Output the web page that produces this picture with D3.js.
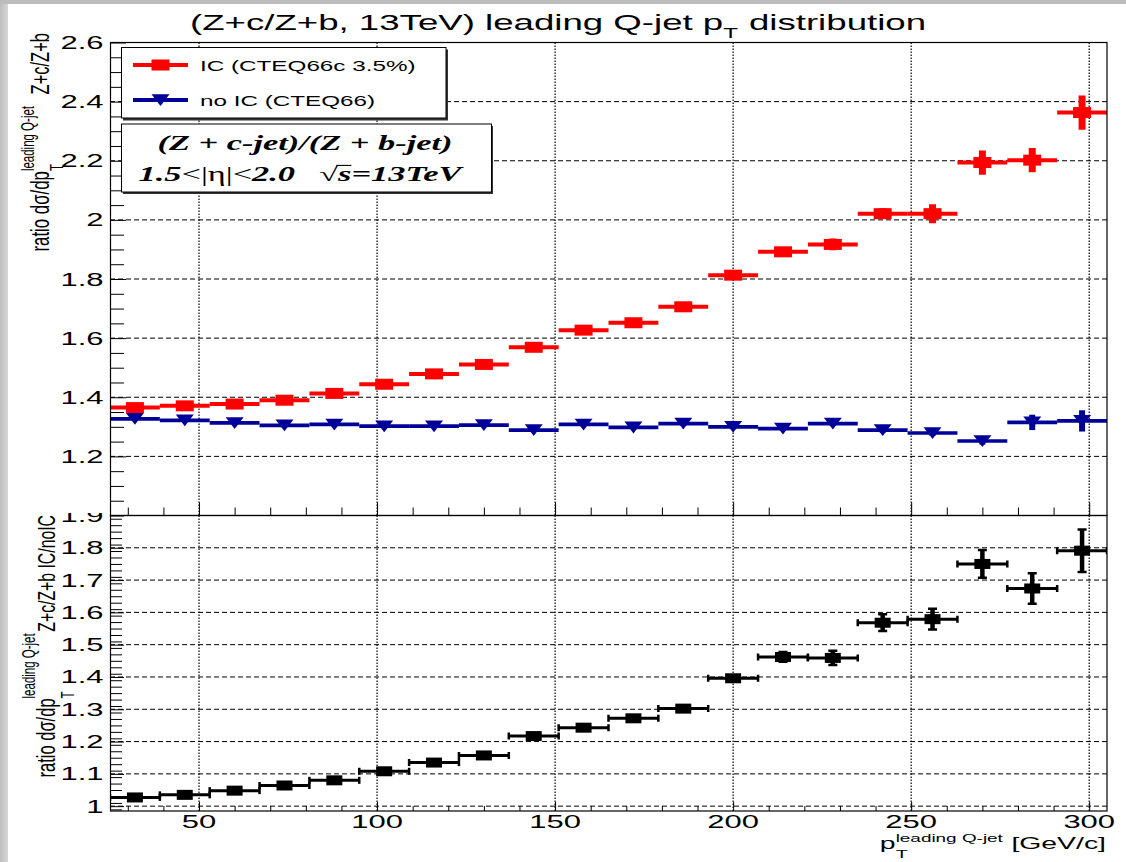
<!DOCTYPE html>
<html>
<head>
<meta charset="utf-8">
<script src="https://cdn.jsdelivr.net/npm/d3@7/dist/d3.min.js"></script>
<style>
  html, body { margin: 0; padding: 0; background: #ffffff; }
  svg { display: block; }
</style>
</head>
<body>
<svg id="chart" width="1126" height="862"></svg>
<script>
// ---- Z+c / Z+b cross-section ratio vs leading Q-jet pT (13 TeV) ----
// 20 bins of 14 GeV/c from 25 to 305 GeV/c
const ptCenters = [32, 46, 60, 74, 88, 102, 116, 130, 144, 158, 172, 186, 200, 214, 228, 242, 256, 270, 284, 298];
const binWidth = 14;

// intrinsic charm (CTEQ66c 3.5%)
const icRatio = [1.365, 1.371, 1.377, 1.390, 1.413, 1.444, 1.479, 1.511, 1.569, 1.627, 1.652, 1.706, 1.813, 1.892, 1.917, 2.021, 2.021, 2.194, 2.202, 2.363];
const icErr   = [0.004, 0.004, 0.004, 0.004, 0.005, 0.005, 0.005, 0.006, 0.006, 0.007, 0.007, 0.008, 0.009, 0.010, 0.020, 0.018, 0.032, 0.041, 0.041, 0.058];

// no intrinsic charm (CTEQ66)
const noIcRatio = [1.327, 1.322, 1.313, 1.305, 1.308, 1.302, 1.302, 1.306, 1.289, 1.308, 1.298, 1.311, 1.300, 1.294, 1.311, 1.289, 1.279, 1.252, 1.315, 1.320];
const noIcErr   = [0.003, 0.003, 0.003, 0.003, 0.003, 0.004, 0.004, 0.004, 0.004, 0.005, 0.005, 0.005, 0.006, 0.007, 0.008, 0.009, 0.010, 0.012, 0.026, 0.036];

// double ratio IC / noIC
const icOverNoIc    = [1.027, 1.035, 1.048, 1.064, 1.080, 1.108, 1.135, 1.157, 1.217, 1.243, 1.272, 1.302, 1.396, 1.462, 1.459, 1.568, 1.579, 1.750, 1.674, 1.791];
const icOverNoIcErr = [0.003, 0.003, 0.004, 0.004, 0.005, 0.005, 0.005, 0.006, 0.006, 0.007, 0.007, 0.008, 0.010, 0.015, 0.022, 0.026, 0.032, 0.043, 0.047, 0.066];

// axis ticks and labels
const xTickValues  = [50, 100, 150, 200, 250, 300];
const xTickLabels  = ["50", "100", "150", "200", "250", "300"];
const upperYTicks  = [1.2, 1.4, 1.6, 1.8, 2.0, 2.2, 2.4, 2.6];
const upperYLabels = ["1.2", "1.4", "1.6", "1.8", "2", "2.2", "2.4", "2.6"];
const lowerYTicks  = [1.0, 1.1, 1.2, 1.3, 1.4, 1.5, 1.6, 1.7, 1.8, 1.9];
const lowerYLabels = ["1", "1.1", "1.2", "1.3", "1.4", "1.5", "1.6", "1.7", "1.8", "1.9"];
const legendLabels = ["IC (CTEQ66c 3.5%)", "no IC (CTEQ66)"];

// ---- layout ----
const W = 1126, H = 862;
const X0 = 110, X1 = 1107;
const YT0 = 42.5, YT1 = 515.5;   // upper frame
const YB0 = 515.5, YB1 = 811;    // lower frame
const SANS = "'Liberation Sans', Arial, Helvetica, sans-serif";
const SERIF = "'Liberation Serif', 'Times New Roman', Times, serif";
const SX = 1.72;    // wide glyph aspect of canvas text
const SXV = 1.55;   // glyph aspect for rotated axis titles
const RED = "#ff0000", BLUE = "#000099", BLACK = "#000000";

const x = d3.scaleLinear().domain([25, 305]).range([X0, X1]);
const yTop = d3.scaleLinear().domain([1.0, 2.6]).range([YT1, YT0]);
const yBot = d3.scaleLinear().domain([0.985, 1.9]).range([YB1, YB0]);

const svg = d3.select("#chart");
const defs = svg.append("defs");

// background and window edge
svg.append("rect").attr("width", W).attr("height", H).attr("fill", "#ffffff");
const edge = defs.append("linearGradient").attr("id", "edge").attr("x1", 0).attr("x2", 1).attr("y1", 0).attr("y2", 0);
edge.append("stop").attr("offset", 0).attr("stop-color", "#bdbdbd");
edge.append("stop").attr("offset", 1).attr("stop-color", "#d6d6d6");
svg.append("rect").attr("x", 0).attr("y", 0).attr("width", 8).attr("height", H).attr("fill", "url(#edge)");
svg.append("rect").attr("x", 0).attr("y", 0).attr("width", W).attr("height", 4).attr("fill", "#bcbcbc");

defs.append("clipPath").attr("id", "clipTop").append("rect")
  .attr("x", X0).attr("y", YT0).attr("width", X1 - X0).attr("height", YT1 - YT0);
defs.append("clipPath").attr("id", "clipBot").append("rect")
  .attr("x", X0).attr("y", YB0).attr("width", X1 - X0).attr("height", YB1 - YB0);
defs.append("clipPath").attr("id", "lowerPad").append("rect")
  .attr("x", 0).attr("y", 513).attr("width", W).attr("height", H - 513);

// text helper: sequence of pieces (sub/superscripts), drawn with wide glyph aspect
function rich(parent, px, py, pieces, o = {}) {
  const sx = o.sx ?? SX, rot = o.rotate ?? 0;
  const g = parent.append("g")
    .attr("transform", `translate(${px},${py}) scale(${sx},1)` + (rot ? ` rotate(${rot})` : ""));
  const inner = g.append("g");
  let cur = 0, held = 0;
  const placed = [];
  pieces.forEach(p => {
    const gap = (p.gap || 0) * p.size;
    const t = inner.append("text")
      .attr("x", cur + gap)
      .attr("y", p.dy || 0)
      .attr("font-family", p.family || o.family || SANS)
      .attr("font-size", p.size)
      .attr("font-weight", p.weight || o.weight || "normal")
      .attr("font-style", p.style || o.style || "normal")
      .attr("fill", o.fill || BLACK)
      .text(p.t);
    const w = t.node().getComputedTextLength();
    placed.push({ x0: cur + gap, w, p });
    if (p.hold) held = Math.max(held, w + gap);
    else { cur += Math.max(w + gap, held); held = 0; }
  });
  const shift = o.anchor === "end" ? -cur : o.anchor === "middle" ? -cur / 2 : 0;
  inner.attr("transform", `translate(${shift},0)`);
  placed.forEach(d => {
    if (d.p.overline) {
      const yy = (d.p.dy || 0) - d.p.size * 0.78;
      inner.append("line").attr("x1", d.x0 - 1).attr("x2", d.x0 + d.w)
        .attr("y1", yy).attr("y2", yy).attr("stroke", BLACK).attr("stroke-width", 1.1);
    }
  });
  return g;
}

// ---- title ----
rich(svg, 558, 30, [
  { t: "(Z+c/Z+b, 13TeV) leading Q-jet p", size: 21.3 },
  { t: "T", size: 14, dy: 8 },
  { t: "distribution", size: 21.3, gap: 0.3 }
], { anchor: "middle" });

// ---- grids ----
function grid(g, yScale, yTicks, ya, yb) {
  g.append("g").selectAll("line").data(yTicks.filter(v => yScale(v) > ya + 1 && yScale(v) < yb - 1)).join("line")
    .attr("x1", X0).attr("x2", X1)
    .attr("y1", d => yScale(d)).attr("y2", d => yScale(d))
    .attr("stroke", BLACK).attr("stroke-width", 1).attr("stroke-dasharray", "5,3");
  g.append("g").selectAll("line").data(xTickValues).join("line")
    .attr("x1", d => x(d)).attr("x2", d => x(d))
    .attr("y1", ya).attr("y2", yb)
    .attr("stroke", BLACK).attr("stroke-width", 1.2).attr("stroke-dasharray", "1.5,1.5");
}

// ---- lower pad (drawn first, partly covered by the upper pad) ----
const lower = svg.append("g").attr("clip-path", "url(#lowerPad)");
grid(lower, yBot, lowerYTicks, YB0, YB1);

function ticks(g, axis, tx, ty) {
  const a = g.append("g").attr("transform", `translate(${tx},${ty})`).call(axis);
  a.select(".domain").remove();
  a.selectAll("text").remove();
  a.selectAll("line").attr("stroke", BLACK).attr("stroke-width", 1);
}
const xMinor = d3.range(30, 305, 10).filter(v => v % 50 !== 0);
ticks(lower, d3.axisRight(yBot).tickValues(d3.range(0.99, 1.9, 0.02).filter(v => Math.abs(v * 10 - Math.round(v * 10)) > 0.01)).tickSize(12), X0, 0);
ticks(lower, d3.axisRight(yBot).tickValues(lowerYTicks).tickSize(14), X0, 0);
ticks(lower, d3.axisTop(x).tickValues(xMinor).tickSize(5), 0, YB1);
ticks(lower, d3.axisTop(x).tickValues(xTickValues).tickSize(9), 0, YB1);

// lower data: IC/noIC with capped error bars
const lowerData = ptCenters.map((c, i) => ({ c, v: icOverNoIc[i], e: icOverNoIcErr[i] }));
const ld = lower.append("g").attr("clip-path", "url(#clipBot)");
ld.selectAll(".hbar").data(lowerData).join("line")
  .attr("x1", d => x(d.c - binWidth / 2)).attr("x2", d => x(d.c + binWidth / 2))
  .attr("y1", d => yBot(d.v)).attr("y2", d => yBot(d.v))
  .attr("stroke", BLACK).attr("stroke-width", 3);
ld.selectAll(".hcap").data(lowerData.flatMap(d => [{ c: d.c - binWidth / 2, v: d.v }, { c: d.c + binWidth / 2, v: d.v }])).join("line")
  .attr("x1", d => x(d.c)).attr("x2", d => x(d.c))
  .attr("y1", d => yBot(d.v) - 3.5).attr("y2", d => yBot(d.v) + 3.5)
  .attr("stroke", BLACK).attr("stroke-width", 2.5);
const lowerErr = lowerData.filter(d => yBot(d.v - d.e) - yBot(d.v) > 4.5);
ld.selectAll(".vbar").data(lowerErr).join("line")
  .attr("x1", d => x(d.c)).attr("x2", d => x(d.c))
  .attr("y1", d => yBot(d.v + d.e)).attr("y2", d => yBot(d.v - d.e))
  .attr("stroke", BLACK).attr("stroke-width", 4.5);
ld.selectAll(".vcap").data(lowerErr.flatMap(d => [{ c: d.c, y: d.v + d.e }, { c: d.c, y: d.v - d.e }])).join("line")
  .attr("x1", d => x(d.c) - 4.5).attr("x2", d => x(d.c) + 4.5)
  .attr("y1", d => yBot(d.y)).attr("y2", d => yBot(d.y))
  .attr("stroke", BLACK).attr("stroke-width", 2.5);
ld.selectAll(".mk").data(lowerData).join("rect")
  .attr("x", d => x(d.c) - 8).attr("y", d => yBot(d.v) - 5)
  .attr("width", 16).attr("height", 10).attr("fill", BLACK);

lower.append("rect").attr("x", X0 + 0.5).attr("y", YB0).attr("width", X1 - X0 - 0.5).attr("height", YB1 - YB0)
  .attr("fill", "none").attr("stroke", BLACK).attr("stroke-width", 1.2);

lowerYTicks.forEach((v, i) => {
  rich(lower, 103.5, yBot(v) + 6.5, [{ t: lowerYLabels[i], size: 18 }], { anchor: "end" });
});
xTickValues.forEach((v, i) => {
  rich(lower, x(v), 828, [{ t: xTickLabels[i], size: 18 }], { anchor: "middle" });
});

// lower y title
rich(lower, 55, 515, [
  { t: "ratio d\u03c3/dp", size: 16.5 },
  { t: "T", size: 11.5, dy: 12, hold: true },
  { t: "leading Q-jet", size: 11.5, dy: -13 },
  { t: "Z+c/Z+b IC/noIC", size: 15.8, gap: 0.1 }
], { anchor: "end", sx: SXV, rotate: -90 });

// x title
rich(svg, 1106, 849, [
  { t: "p", size: 16.5 },
  { t: "T", size: 11.5, dy: 9, hold: true },
  { t: "leading Q-jet", size: 11, dy: -7 },
  { t: "[GeV/c]", size: 16.5, gap: 0.3 }
], { anchor: "end" });

// ---- upper pad ----
const upper = svg.append("g");
grid(upper, yTop, upperYTicks, YT0, YT1);
ticks(upper, d3.axisRight(yTop).tickValues(d3.range(1.05, 2.6, 0.05).filter(v => Math.abs(v * 5 - Math.round(v * 5)) > 0.01)).tickSize(14), X0, 0);
ticks(upper, d3.axisRight(yTop).tickValues(upperYTicks).tickSize(16), X0, 0);
ticks(upper, d3.axisTop(x).tickValues(xMinor).tickSize(8), 0, YT1);
ticks(upper, d3.axisTop(x).tickValues(xTickValues).tickSize(13), 0, YT1);

const ud = upper.append("g").attr("clip-path", "url(#clipTop)");
function series(vals, errs, color, hw, vw) {
  const data = ptCenters.map((c, i) => ({ c, v: vals[i], e: errs[i] }));
  const g = ud.append("g");
  g.selectAll(".h").data(data).join("line")
    .attr("x1", d => x(d.c - binWidth / 2)).attr("x2", d => x(d.c + binWidth / 2))
    .attr("y1", d => yTop(d.v)).attr("y2", d => yTop(d.v))
    .attr("stroke", color).attr("stroke-width", hw);
  g.selectAll(".v").data(data).join("line")
    .attr("x1", d => x(d.c)).attr("x2", d => x(d.c))
    .attr("y1", d => yTop(d.v + d.e)).attr("y2", d => yTop(d.v - d.e))
    .attr("stroke", color).attr("stroke-width", vw);
  return { g, data };
}
const redS = series(icRatio, icErr, RED, 4, 7);
redS.g.selectAll(".m").data(redS.data).join("rect")
  .attr("x", d => x(d.c) - 9).attr("y", d => yTop(d.v) - 5.5)
  .attr("width", 18).attr("height", 11).attr("fill", RED);
const blueS = series(noIcRatio, noIcErr, BLUE, 3.7, 6);
const tri = (cx, cy) => `M${cx - 9},${cy - 5.8}L${cx + 9},${cy - 5.8}L${cx},${cy + 6}Z`;
blueS.g.selectAll(".m").data(blueS.data).join("path")
  .attr("d", d => tri(x(d.c), yTop(d.v))).attr("fill", BLUE);

upper.append("rect").attr("x", X0 + 0.5).attr("y", YT0).attr("width", X1 - X0 - 0.5).attr("height", YT1 - YT0)
  .attr("fill", "none").attr("stroke", BLACK).attr("stroke-width", 1.2);

upperYTicks.forEach((v, i) => {
  rich(upper, 103.5, yTop(v) + 6.5, [{ t: upperYLabels[i], size: 18 }], { anchor: "end" });
});

// upper y title
rich(upper, 49, 33, [
  { t: "ratio d\u03c3/dp", size: 16.8 },
  { t: "T", size: 11.5, dy: 9, hold: true },
  { t: "leading Q-jet", size: 11.5, dy: -10 },
  { t: "Z+c/Z+b", size: 16.5, gap: 0.7 }
], { anchor: "end", sx: SXV, rotate: -90 });

// ---- legend ----
const leg = upper.append("g");
leg.append("rect").attr("x", 123).attr("y", 49.5).attr("width", 325).attr("height", 71).attr("fill", "#333");
leg.append("rect").attr("x", 121.5).attr("y", 47.5).attr("width", 324.5).attr("height", 70.5)
  .attr("fill", "#fff").attr("stroke", BLACK).attr("stroke-width", 1);
const legRows = [
  { label: legendLabels[0], color: RED, y: 65, shape: "sq" },
  { label: legendLabels[1], color: BLUE, y: 100, shape: "tri" }
];
legRows.forEach(r => {
  leg.append("line").attr("x1", 133).attr("x2", 188).attr("y1", r.y).attr("y2", r.y)
    .attr("stroke", r.color).attr("stroke-width", 4);
  if (r.shape === "sq") leg.append("rect").attr("x", 151.5).attr("y", r.y - 5.5).attr("width", 18).attr("height", 11).attr("fill", r.color);
  else leg.append("path").attr("d", tri(160.5, r.y)).attr("fill", r.color);
  rich(leg, 200, r.y + 5.5, [{ t: r.label, size: 14.1 }]);
});

// ---- selection box ----
const box = upper.append("g");
box.append("rect").attr("x", 123).attr("y", 126).attr("width", 370).attr("height", 68).attr("fill", "#333");
box.append("rect").attr("x", 121.5).attr("y", 124).attr("width", 370).attr("height", 68)
  .attr("fill", "#fff").attr("stroke", BLACK).attr("stroke-width", 1);
rich(box, 305, 150, [{ t: "(Z + c-jet)/(Z + b-jet)", size: 20 }],
  { anchor: "middle", family: SERIF, weight: "bold", style: "italic" });
rich(box, 300, 181, [
  { t: "1.5", size: 20, weight: "bold", style: "italic" },
  { t: "<|\u03b7|<", size: 20 },
  { t: "2.0", size: 20, weight: "bold", style: "italic" },
  { t: "\u221a", size: 20, gap: 0.7 },
  { t: "s", size: 20, weight: "bold", style: "italic", overline: true },
  { t: "=13TeV", size: 20, weight: "bold", style: "italic" }
], { anchor: "middle", family: SERIF });
</script>
</body>
</html>
